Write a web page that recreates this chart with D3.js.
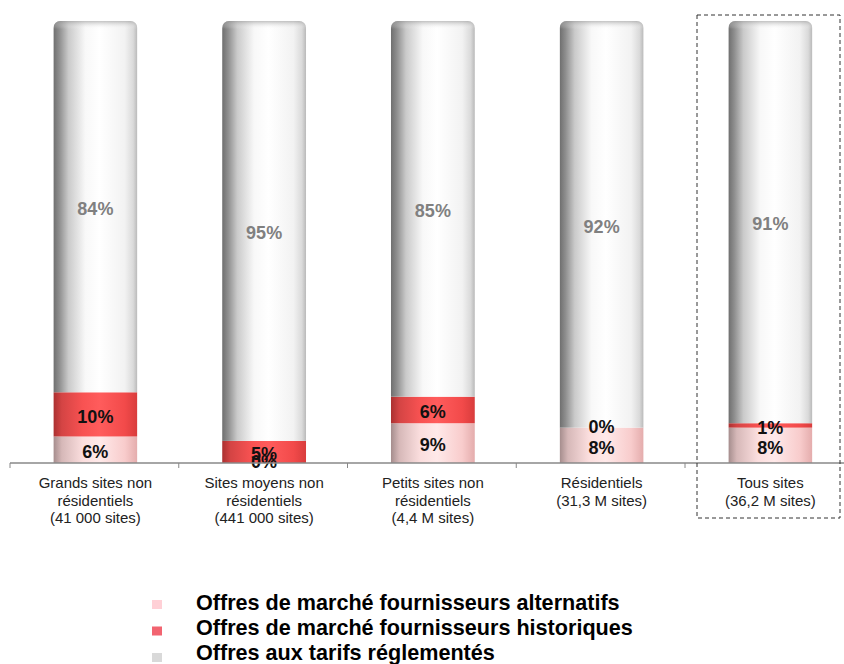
<!DOCTYPE html>
<html>
<head>
<meta charset="utf-8">
<script src="https://cdn.jsdelivr.net/npm/d3@7"></script>
<style>
  body { margin: 0; background: #fff; }
  text { font-family: "Liberation Sans", Arial, sans-serif; }
</style>
</head>
<body>
<div id="chart"></div>
<script>
// categories (one label line per array entry)
var categories = [
    ["Grands sites non", "résidentiels", "(41 000 sites)"],
    ["Sites moyens non", "résidentiels", "(441 000 sites)"],
    ["Petits sites non", "résidentiels", "(4,4 M sites)"],
    ["Résidentiels", "(31,3 M sites)"],
    ["Tous sites", "(36,2 M sites)"]
]
var alternatifs = [6, 0, 9, 8, 8]
var historiques = [10, 5, 6, 0, 1]
var reglementes = [84, 95, 85, 92, 91]
var seriesNames = [
    "Offres de marché fournisseurs alternatifs",
    "Offres de marché fournisseurs historiques",
    "Offres aux tarifs réglementés"
]

var width = 844, height = 664
var baseY = 463, topY = 21

var svg = d3.select("#chart").append("svg")
    .attr("width", width)
    .attr("height", height)

// cylinder shading gradients
var defs = svg.append("defs")
var gradients = {
    alt: [[0, "#a48c8c"], [0.1, "#d6b8b8"], [0.35, "#fbdede"], [0.55, "#ffe9e9"], [0.85, "#f8cccc"], [1, "#e4acac"]],
    hist: [[0, "#aa3030"], [0.1, "#d44444"], [0.35, "#f85252"], [0.55, "#ff5c5c"], [0.85, "#f24a4a"], [1, "#d83c3c"]],
    reg: [[0, "#6e6e6e"], [0.07, "#8e8e8e"], [0.18, "#cacaca"], [0.38, "#f8f8f8"], [0.55, "#ffffff"], [0.85, "#f2f2f2"], [0.95, "#dadada"], [1, "#b8b8b8"]]
}
Object.keys(gradients).forEach(function(k) {
    var g = defs.append("linearGradient").attr("id", "grad-" + k)
        .attr("x1", "0%").attr("x2", "100%").attr("y1", "0%").attr("y2", "0%")
    gradients[k].forEach(function(s) {
        g.append("stop").attr("offset", s[0]).attr("stop-color", s[1])
    })
})
var topShade = defs.append("linearGradient").attr("id", "grad-top")
    .attr("x1", "0%").attr("x2", "0%").attr("y1", "0%").attr("y2", "100%")
topShade.append("stop").attr("offset", 0).attr("stop-color", "#9a9a9a").attr("stop-opacity", 0.6)
topShade.append("stop").attr("offset", 1).attr("stop-color", "#ffffff").attr("stop-opacity", 0)

var idx = d3.range(categories.length)

var x = d3.scaleBand()
    .domain(idx)
    .range([10, 10 + 168.75 * categories.length])
    .paddingInner(0)

var y = d3.scaleLinear()
    .domain([0, 100])
    .range([baseY, topY])

var barW = 84

// stacked data
var data = idx.map(function(i) {
    return {i: i, alt: alternatifs[i], hist: historiques[i], reg: reglementes[i]}
})
var stack = d3.stack().keys(["alt", "hist", "reg"])(data)

// clip paths for rounded top of each cylinder
idx.forEach(function(i) {
    defs.append("clipPath").attr("id", "clip" + i)
        .append("rect")
        .attr("x", x(i) + (x.bandwidth() - barW) / 2 + 1)
        .attr("y", y(100))
        .attr("width", barW)
        .attr("height", baseY - y(100) + 20)
        .attr("rx", 7)
})

var bars = svg.append("g")
stack.forEach(function(layer) {
    layer.forEach(function(d, i) {
        bars.append("rect")
            .attr("clip-path", "url(#clip" + i + ")")
            .attr("x", x(i) + (x.bandwidth() - barW) / 2 + 1)
            .attr("y", y(d[1]))
            .attr("width", barW)
            .attr("height", y(d[0]) - y(d[1]))
            .attr("fill", "url(#grad-" + layer.key + ")")
    })
})
// slight shade at the top of the cylinders
idx.forEach(function(i) {
    bars.append("rect")
        .attr("clip-path", "url(#clip" + i + ")")
        .attr("x", x(i) + (x.bandwidth() - barW) / 2 + 1)
        .attr("y", y(100))
        .attr("width", barW)
        .attr("height", 8)
        .attr("fill", "url(#grad-top)")
})

// value labels
var labels = svg.append("g")
    .attr("font-size", 18)
    .attr("font-weight", "bold")
    .attr("text-anchor", "middle")
stack.forEach(function(layer) {
    layer.forEach(function(d, i) {
        labels.append("text")
            .attr("x", x(i) + x.bandwidth() / 2 + 1)
            .attr("y", (y(d[0]) + y(d[1])) / 2 + (d[1] > d[0] ? 2 : -1))
            .attr("dy", "0.35em")
            .attr("fill", layer.key == "reg" ? "#808080" : "#111")
            .text((d[1] - d[0]) + "%")
    })
})

// x axis
var axis = svg.append("g").attr("transform", "translate(0," + baseY + ")")
axis.append("line")
    .attr("x1", x.range()[0]).attr("x2", width)
    .attr("stroke", "#888").attr("stroke-width", 1.5)
idx.forEach(function(i) {
    axis.append("line")
        .attr("x1", x(i)).attr("x2", x(i))
        .attr("y1", 0).attr("y2", 5)
        .attr("stroke", "#888")
})

// category labels
var cats = svg.append("g")
    .attr("font-size", 15)
    .attr("fill", "#222")
    .attr("text-anchor", "middle")
categories.forEach(function(lines, i) {
    lines.forEach(function(t, j) {
        cats.append("text")
            .attr("x", x(i) + x.bandwidth() / 2 + 1)
            .attr("y", 488 + j * 17.5)
            .text(t)
    })
})

// dashed box around the last category
svg.append("rect")
    .attr("x", x(categories.length - 1) + 12)
    .attr("y", 15)
    .attr("width", 143)
    .attr("height", 503)
    .attr("fill", "none")
    .attr("stroke", "#333")
    .attr("stroke-dasharray", "4,3")

// legend
var legendColors = ["#ffd0d6", "#f26470", "#d9d9d9"]
var legend = svg.append("g")
seriesNames.forEach(function(name, i) {
    legend.append("rect")
        .attr("x", 152).attr("y", 600 + i * 26.5)
        .attr("width", 10).attr("height", 9)
        .attr("fill", legendColors[i])
    legend.append("text")
        .attr("x", 196).attr("y", 610 + i * 25)
        .attr("font-size", 21.6)
        .attr("font-weight", "bold")
        .attr("fill", "#000")
        .text(name)
})
</script>
</body>
</html>
